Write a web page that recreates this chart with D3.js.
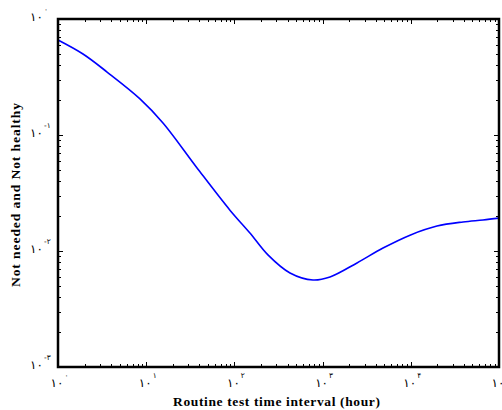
<!DOCTYPE html>
<html>
<head>
<meta charset="utf-8">
<script src="https://cdn.jsdelivr.net/npm/d3@7"></script>
<style>
  html, body { margin: 0; padding: 0; background: #fff; overflow: hidden; }
  svg { display: block; }
</style>
</head>
<body>
<div id="chart"></div>
<script>
// values
const intervalHours = [1, 1.92, 3.6, 8.5, 15.5, 37.7, 89, 150, 240, 427, 778, 1213, 2455, 4842, 9795, 19800, 39100, 65900, 100000];
const probability = [0.659, 0.499, 0.349, 0.205, 0.127, 0.052, 0.0225, 0.0143, 0.00925, 0.00646, 0.00562, 0.00597, 0.00789, 0.0106, 0.0137, 0.0164, 0.0178, 0.0185, 0.0192];

const xMajor = [1, 10, 100, 1000, 10000, 100000];
const xExponents = ['۰', '۱', '۲', '۳', '۴', '۵'];
const yMajor = [1, 0.1, 0.01, 0.001];
const yExponents = ['۰', '-۱', '-۲', '-۳'];
const base = '۱۰';

const xTitle = 'Routine test time interval (hour)';
const yTitle = 'Not needed and Not healthy';

const width = 502, height = 410;
const plotLeft = 58, plotRight = 499, plotTop = 19, plotBottom = 367;

const svg = d3.select('#chart').append('svg')
    .attr('width', width)
    .attr('height', height);

const x = d3.scaleLog().domain([1, 1e5]).range([plotLeft, plotRight]);
const y = d3.scaleLog().domain([0.001, 1]).range([plotBottom, plotTop]);

const isMajor = (t) => Math.abs(Math.log10(t) - Math.round(Math.log10(t))) < 1e-9;

const ticks = svg.append('g').attr('stroke', '#000').attr('stroke-width', 1);

x.ticks().forEach((t) => {
    const len = isMajor(t) ? 5 : 3;
    const px = Math.round(x(t)) + 0.5;
    ticks.append('line').attr('x1', px).attr('x2', px).attr('y1', plotBottom).attr('y2', plotBottom - len);
    ticks.append('line').attr('x1', px).attr('x2', px).attr('y1', plotTop).attr('y2', plotTop + len);
});

y.ticks().forEach((t) => {
    const len = isMajor(t) ? 5 : 3;
    const py = Math.round(y(t)) + 0.5;
    ticks.append('line').attr('y1', py).attr('y2', py).attr('x1', plotLeft).attr('x2', plotLeft + len);
    ticks.append('line').attr('y1', py).attr('y2', py).attr('x1', plotRight).attr('x2', plotRight - len);
});

// curve
const line = d3.line()
    .x((d, i) => x(intervalHours[i]))
    .y((d, i) => y(probability[i]))
    .curve(d3.curveCatmullRom.alpha(0.5));

svg.append('path')
    .datum(probability)
    .attr('d', line)
    .attr('fill', 'none')
    .attr('stroke', '#0000ff')
    .attr('stroke-width', 1.6);

// frame
svg.append('rect')
    .attr('x', plotLeft)
    .attr('y', plotTop)
    .attr('width', plotRight - plotLeft)
    .attr('height', plotBottom - plotTop)
    .attr('fill', 'none')
    .attr('stroke', '#000')
    .attr('stroke-width', 2.5);

const font = '"DejaVu Sans", sans-serif';

// x tick labels: base centred on the tick, exponent up and to the right
xMajor.forEach((t, i) => {
    const txt = svg.append('text')
        .attr('y', 387)
        .attr('direction', 'ltr')
        .attr('font-family', font)
        .attr('font-size', 12)
        .attr('fill', '#000');
    const b = txt.append('tspan').text(base);
    txt.append('tspan').attr('dx', 1).attr('dy', -9).attr('font-size', 7.5).text(xExponents[i]);
    const w = b.node().getComputedTextLength();
    txt.attr('x', x(t) - w / 2 - 1);
});

// y tick labels: base right aligned left of the axis, exponent hangs to the right
yMajor.forEach((t, i) => {
    const txt = svg.append('text')
        .attr('y', y(t) + 2)
        .attr('direction', 'ltr')
        .attr('font-family', font)
        .attr('font-size', 12)
        .attr('fill', '#000');
    const b = txt.append('tspan').text(base);
    txt.append('tspan').attr('dx', 1).attr('dy', -9).attr('font-size', 7.5).text(yExponents[i]);
    const w = b.node().getComputedTextLength();
    txt.attr('x', 43 - w);
});

// axis titles
svg.append('text')
    .attr('x', 173)
    .attr('y', 406)
    .attr('textLength', 207)
    .attr('lengthAdjust', 'spacing')
    .attr('font-family', '"Liberation Serif", "Times New Roman", serif')
    .attr('font-weight', 'bold')
    .attr('font-size', 13.5)
    .text(xTitle);

svg.append('text')
    .attr('transform', 'translate(20,287) rotate(-90)')
    .attr('textLength', 184)
    .attr('lengthAdjust', 'spacing')
    .attr('font-family', '"Liberation Serif", "Times New Roman", serif')
    .attr('font-weight', 'bold')
    .attr('font-size', 13.5)
    .text(yTitle);
</script>
</body>
</html>
